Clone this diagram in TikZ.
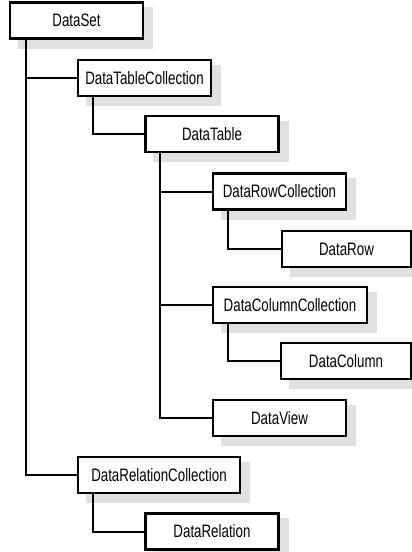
\documentclass[tikz,border=0pt]{standalone}
\usepackage{fontspec}
\newfontfamily\boxfont{Liberation Sans}[FakeStretch=0.74]
\usetikzlibrary{calc,backgrounds}

\begin{document}
\begin{tikzpicture}[x=1pt,y=-1pt,
        cls/.style={draw,line width=2.4pt,fill=white,minimum height=36pt,
            minimum width=133pt,inner sep=0pt,font=\boxfont\fontsize{18}{20}\selectfont},
        shade box/.style={fill=black!12},
        link/.style={line width=2pt}]
            \useasboundingbox (0,0) rectangle (412,552);
            % collections and their members
            \node[cls] (ds) at (76.5,20.5) {DataSet};
            \node[cls] (dtc) at (144.5,78) {DataTableCollection};
            \node[cls] (dt) at (212,134) {DataTable};
            \node[cls] (drc) at (279.5,191.5) {DataRowCollection};
            \node[cls,minimum width=129pt] (dr) at (346.5,249) {DataRow};
            \node[cls,minimum width=154pt] (dcc) at (290,305) {DataColumnCollection};
            \node[cls,minimum width=130pt] (dc) at (346,361) {DataColumn};
            \node[cls] (dv) at (279.5,418) {DataView};
            \node[cls,minimum width=162pt] (drlc) at (159,475) {DataRelationCollection};
            \node[cls] (drl) at (212,531.5) {DataRelation};
            \draw[link] ([xshift=17pt]ds.south west) |- (drlc.west);
            \draw[link] ([xshift=17pt]ds.south west) |- (dtc.west);
            \draw[link] ([xshift=16pt]dtc.south west) |- (dt.west);
            \draw[link] ([xshift=16pt]dt.south west) |- (dv.west);
            \draw[link] ([xshift=16pt]dt.south west) |- (drc.west);
            \draw[link] ([xshift=16pt]dt.south west) |- (dcc.west);
            \draw[link] ([xshift=16pt]drc.south west) |- (dr.west);
            \draw[link] ([xshift=16pt]dcc.south west) |- (dc.west);
            \draw[link] ([xshift=16pt]drlc.south west) |- (drl.west);
            % soft shadows
            \begin{scope}[on background layer]
                \foreach \b in {ds,dtc,dt,drc,dr,dcc,dc,dv,drlc,drl}{
                    \fill[shade box] ($(\b.north west)+(9,6)$) rectangle ($(\b.south east)+(9,9)$);
                    \fill[shade box] ($(\b.north west)+(11,8)$) rectangle ($(\b.south east)+(6,6)$);
                }
            \end{scope}
\end{tikzpicture}
\end{document}
